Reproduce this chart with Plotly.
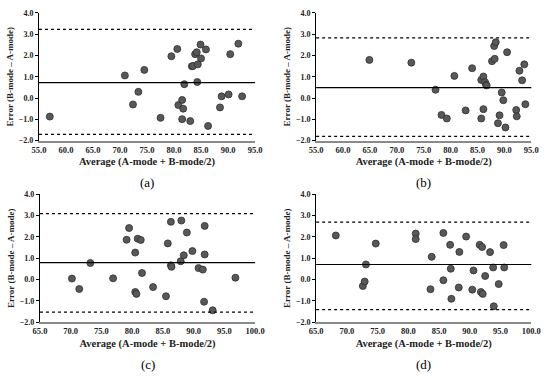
import plotly.graph_objects as go
from plotly.subplots import make_subplots

# Panel (a)
a_x = [57.0, 70.9, 72.4, 73.4, 74.5, 77.5, 79.5, 80.6, 80.8, 81.5, 81.5, 81.7, 81.9, 83.0, 83.3,
       83.5, 83.9, 84.2, 84.3, 84.4, 84.9, 85.0, 85.9, 86.3, 88.5, 88.8, 90.1, 90.4, 91.9, 92.6]
a_y = [-0.87, 1.06, -0.30, 0.29, 1.32, -0.93, 1.96, 2.30, -0.33, -0.09, -0.99, -0.50, 0.65, -1.08, 1.49,
       1.50, 2.06, 2.15, 0.75, 1.58, 2.51, 1.86, 2.28, -1.31, -0.44, 0.08, 0.17, 2.06, 2.55, 0.08]
a_lines = [0.72, 3.22, -1.70]

# Panel (b)
b_x = [64.9, 72.7, 77.2, 78.3, 79.3, 80.7, 82.8, 84.0, 85.7, 85.7, 86.1, 86.1, 86.4, 86.6, 86.7, 87.7,
       88.1, 88.2, 88.4, 88.8, 89.1, 89.5, 89.8, 90.2, 90.5, 92.2, 92.3, 92.8, 93.3, 93.7, 93.9]
b_y = [1.79, 1.66, 0.39, -0.79, -0.96, 1.04, -0.58, 1.40, 0.85, -0.96, 1.01, -0.52, 0.75, 0.62, 0.59, 1.73,
       2.44, 1.84, 2.62, -1.18, -0.81, 0.26, -0.10, -1.38, 2.15, -0.56, -0.86, 1.28, 0.83, 1.58, -0.29]
b_lines = [0.49, 2.82, -1.80]

# Panel (c)
c_x = [70.2, 71.4, 73.2, 76.9, 79.1, 79.5, 80.5, 80.5, 80.7, 80.9, 81.4, 81.6, 83.4, 85.5, 85.8,
       86.3, 86.3, 86.4, 87.9, 88.0, 88.4, 88.9, 89.8, 90.8, 91.5, 91.7, 91.8, 91.8, 93.1, 96.8]
c_y = [0.05, -0.44, 0.78, 0.06, 1.87, 2.42, 1.27, -0.58, -0.67, 1.92, 1.86, 0.31, -0.35, -0.78, 1.70,
       2.71, 0.67, 0.60, 0.86, 2.77, 1.14, 2.21, 1.34, 0.54, 0.47, -1.04, 1.18, 2.52, -1.44, 0.09]
c_lines = [0.80, 3.10, -1.53]

# Panel (d)
d_x = [68.2, 72.6, 72.9, 73.1, 74.7, 81.2, 81.2, 83.6, 83.8, 85.7, 85.7, 86.8, 86.9, 87.0, 88.2,
       88.3, 89.4, 90.4, 90.6, 91.6, 91.8, 92.0, 92.1, 92.5, 93.3, 93.8, 93.9, 94.7, 95.5, 95.6]
d_y = [2.07, -0.30, -0.09, 0.71, 1.69, 2.16, 1.90, -0.45, 1.07, 2.19, -0.03, 1.63, 0.51, -0.90, -0.37,
       1.30, 2.02, -0.47, 0.43, 1.63, -0.58, 1.53, -0.67, 0.17, 1.29, 0.57, -1.25, -0.21, 1.62, 0.57]
d_lines = [0.71, 2.70, -1.41]

captions = ["(a)", "(b)", "(c)", "(d)"]
x_ranges = [[55, 95], [55, 95], [65, 100], [65, 100]]
y_range = [-2, 4]
x_title = "Average (A-mode + B-mode/2)"
y_title = "Error (B-mode \u2013 A-mode)"

W, H = 550, 378
fig = make_subplots(rows=2, cols=2)

def px_x(p):
    return p / W

def px_y(p):
    return 1 - p / H

domains = [
    ([px_x(33), px_x(256)], [px_y(140), px_y(9)]),
    ([px_x(319), px_x(541)], [px_y(140), px_y(9)]),
    ([px_x(34), px_x(256)], [px_y(326), px_y(195)]),
    ([px_x(319), px_x(541)], [px_y(326), px_y(195)]),
]
cap_y = [183, 183, 369, 369]

panels = [(a_x, a_y, a_lines), (b_x, b_y, b_lines), (c_x, c_y, c_lines), (d_x, d_y, d_lines)]
serif = "Liberation Serif, DejaVu Serif, serif"
dash = "3px,3px"

for i, (xs, ys, lines) in enumerate(panels):
    r, c = i // 2 + 1, i % 2 + 1
    fig.add_trace(go.Scatter(x=xs, y=ys, mode="markers",
                             marker=dict(size=7, color="#585858", line=dict(color="#2e2e2e", width=0.8)),
                             showlegend=False), row=r, col=c)
    fig.add_hline(y=lines[0], line=dict(color="black", width=1.2), row=r, col=c)
    fig.add_hline(y=lines[1], line=dict(color="black", width=1.2, dash=dash), row=r, col=c)
    fig.add_hline(y=lines[2], line=dict(color="black", width=1.2, dash=dash), row=r, col=c)
    xd, yd = domains[i]
    sfx = "" if i == 0 else str(i + 1)
    fig.layout["xaxis" + sfx].update(
        domain=xd, range=x_ranges[i], dtick=5, tickformat=".1f",
        showgrid=False, zeroline=False, showline=True, linecolor="#8a8a8a", linewidth=1.6,
        ticks="", tickfont=dict(family=serif, size=8.5, color="#222222"),
        title=dict(text="<b>" + x_title + "</b>", font=dict(family=serif, size=10.5, color="#222222"), standoff=4),
    )
    fig.layout["yaxis" + sfx].update(
        domain=yd, range=y_range, dtick=1, tickformat=".1f",
        showgrid=False, zeroline=False, showline=True, linecolor="black", linewidth=1,
        ticks="outside", ticklen=3, tickcolor="black",
        tickfont=dict(family=serif, size=8, color="#222222"),
        title=dict(text="<b>" + y_title + "</b>", font=dict(family=serif, size=9, color="#222222"), standoff=3),
    )
    fig.add_annotation(text=captions[i], xref="paper", yref="paper",
                       x=(xd[0] + xd[1]) / 2, y=px_y(cap_y[i]), showarrow=False,
                       xanchor="center", yanchor="middle",
                       font=dict(family=serif, size=13, color="black"))

fig.update_xaxes(tickprefix="<b>", ticksuffix="</b>")
fig.update_yaxes(tickprefix="<b>", ticksuffix="</b>")
fig.update_layout(width=W, height=H, margin=dict(l=0, r=0, t=0, b=0),
                  plot_bgcolor="white", paper_bgcolor="white")
fig.write_html("out.html", config={"displayModeBar": False},
               post_script="document.body.style.margin='0';document.body.style.overflow='hidden';")
